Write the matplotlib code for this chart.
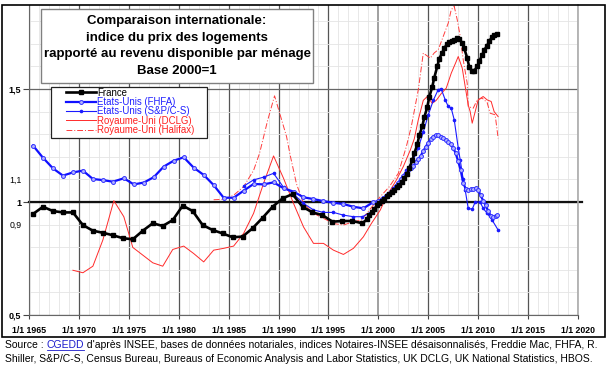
import matplotlib
matplotlib.use("Agg")
import matplotlib.pyplot as plt
from matplotlib.ticker import FixedLocator, FuncFormatter
from matplotlib.patches import Rectangle
from matplotlib.lines import Line2D

plt.rcParams['font.family'] = ['Liberation Sans', 'DejaVu Sans']

# ---------------- data (decimal years, index base 2000 = 1) ----------------
fr_x = [1965.4, 1966.4, 1967.4, 1968.4, 1969.4, 1970.4, 1971.4, 1972.4, 1973.4, 1974.4,
        1975.4, 1976.4, 1977.4, 1978.4, 1979.4, 1980.4, 1981.4, 1982.4, 1983.4, 1984.4,
        1985.4, 1986.4, 1987.4, 1988.4, 1989.4, 1990.4, 1991.4, 1992.4, 1993.4, 1994.4,
        1995.4, 1996.4, 1997.4, 1998.4, 1998.9, 1999.1, 1999.4, 1999.6, 1999.9, 2000.1,
        2000.4, 2000.6, 2000.9, 2001.1, 2001.4, 2001.6, 2001.9, 2002.1, 2002.4, 2002.6,
        2002.9, 2003.1, 2003.4, 2003.6, 2003.9, 2004.1, 2004.4, 2004.6, 2004.9, 2005.1,
        2005.4, 2005.6, 2005.9, 2006.1, 2006.4, 2006.6, 2006.9, 2007.1, 2007.4, 2007.6,
        2007.9, 2008.1, 2008.4, 2008.6, 2008.9, 2009.1, 2009.4, 2009.6, 2009.9, 2010.1,
        2010.4, 2010.6, 2010.9, 2011.1, 2011.4, 2011.6, 2011.9]
fr_y = [0.947, 0.979, 0.960, 0.954, 0.954, 0.898, 0.873, 0.864, 0.853, 0.840,
        0.835, 0.873, 0.906, 0.894, 0.920, 0.984, 0.960, 0.898, 0.876, 0.861,
        0.844, 0.847, 0.884, 0.930, 0.979, 1.016, 1.035, 0.979, 0.954, 0.942,
        0.913, 0.916, 0.916, 0.906, 0.925, 0.942, 0.957, 0.970, 0.985, 0.995,
        1.005, 1.015, 1.025, 1.035, 1.045, 1.055, 1.065, 1.075, 1.090, 1.105,
        1.125, 1.150, 1.185, 1.215, 1.255, 1.295, 1.335, 1.375, 1.420, 1.465,
        1.510, 1.550, 1.600, 1.635, 1.660, 1.682, 1.698, 1.708, 1.714, 1.718,
        1.724, 1.720, 1.705, 1.680, 1.638, 1.598, 1.578, 1.580, 1.600, 1.622,
        1.650, 1.672, 1.692, 1.712, 1.730, 1.740, 1.744]

fhfa_x = [1965.4, 1966.4, 1967.4, 1968.4, 1969.4, 1970.4, 1971.4, 1972.4, 1973.4, 1974.5,
          1975.5, 1976.5, 1977.5, 1978.5, 1979.5, 1980.5, 1981.5, 1982.5, 1983.5, 1984.5,
          1985.5, 1986.5, 1987.5, 1988.5, 1989.5, 1990.5, 1991.5, 1992.5, 1993.5, 1994.5,
          1995.5, 1996.5, 1997.5, 1998.5, 1999.5,
          2000.0, 2000.25, 2000.5, 2000.75, 2001.0, 2001.25, 2001.5, 2001.75, 2002.0, 2002.25,
          2002.5, 2002.75, 2003.0, 2003.25, 2003.5, 2003.75, 2004.0, 2004.25, 2004.5, 2004.75,
          2005.0, 2005.25, 2005.5, 2005.75, 2006.0, 2006.25, 2006.5, 2006.75, 2007.0, 2007.25,
          2007.5, 2007.75, 2008.0, 2008.25, 2008.5, 2008.75, 2009.0, 2009.25, 2009.5, 2009.75,
          2010.0, 2010.25, 2010.5, 2010.75, 2011.0, 2011.25, 2011.5, 2011.75, 2011.9]
fhfa_y = [1.250, 1.196, 1.149, 1.117, 1.131, 1.139, 1.102, 1.097, 1.090, 1.105,
          1.078, 1.086, 1.110, 1.157, 1.183, 1.198, 1.152, 1.120, 1.075, 1.019,
          1.019, 1.050, 1.080, 1.078, 1.087, 1.061, 1.046, 1.021, 1.013, 1.004,
          0.997, 0.991, 0.979, 0.972, 1.000,
          1.003, 1.010, 1.018, 1.026, 1.035, 1.045, 1.055, 1.070, 1.085, 1.100,
          1.115, 1.130, 1.140, 1.150, 1.160, 1.175, 1.190, 1.205, 1.225, 1.245,
          1.262, 1.278, 1.290, 1.297, 1.295, 1.290, 1.283, 1.275, 1.265, 1.255,
          1.240, 1.215, 1.180, 1.140, 1.085, 1.058, 1.052, 1.056, 1.057, 1.060,
          1.052, 1.030, 1.005, 0.985, 0.960, 0.940, 0.935, 0.940, 0.942]

cs_x = [1986.5, 1987.5, 1988.5, 1989.5, 1990.5, 1991.4, 1992.5, 1993.5, 1994.5, 1995.5,
        1996.5, 1997.5, 1998.4, 1999.3, 2000.2, 2000.8, 2001.5, 2002.2, 2002.8, 2003.5,
        2004.0, 2004.5, 2005.0, 2005.5, 2006.0, 2006.3, 2006.7, 2007.0, 2007.3, 2007.6,
        2008.0, 2008.2, 2008.5, 2008.7, 2009.0, 2009.4, 2009.7, 2010.2, 2010.5, 2010.9,
        2011.4, 2012.0]
cs_y = [1.070, 1.098, 1.110, 1.127, 1.065, 1.040, 0.994, 0.965, 0.954, 0.954,
        0.942, 0.935, 0.935, 0.957, 0.994, 1.024, 1.061, 1.098, 1.140, 1.186,
        1.240, 1.310, 1.385, 1.450, 1.498, 1.500, 1.452, 1.423, 1.415, 1.364,
        1.240, 1.186, 1.100, 1.053, 0.972, 0.968, 1.000, 1.000, 0.972, 0.950,
        0.920, 0.876]

dclg_x = [1969.4, 1970.4, 1971.4, 1972.4, 1973.5, 1974.5, 1975.4, 1976.4, 1977.4, 1978.4,
          1979.4, 1980.5, 1981.5, 1982.5, 1983.5, 1984.5, 1985.5, 1986.5, 1987.5, 1988.5,
          1989.5, 1990.5, 1991.5, 1992.5, 1993.5, 1994.5, 1995.5, 1996.5, 1997.5, 1998.5,
          1999.3, 2000.2, 2000.8, 2001.8, 2002.5, 2003.2, 2003.6, 2004.0, 2004.5, 2004.9,
          2005.4, 2005.8, 2006.3, 2006.8, 2007.3, 2007.8, 2008.0, 2008.4, 2008.7, 2009.0,
          2009.2, 2009.4, 2009.7, 2010.0, 2010.5, 2010.9, 2011.3, 2011.6, 2012.0]
dclg_y = [0.698, 0.687, 0.716, 0.832, 1.006, 0.935, 0.799, 0.765, 0.731, 0.716,
          0.790, 0.805, 0.772, 0.735, 0.787, 0.795, 0.805, 0.861, 0.950, 1.083,
          1.204, 1.105, 0.994, 0.890, 0.817, 0.817, 0.787, 0.768, 0.795, 0.846,
          0.905, 0.965, 1.024, 1.097, 1.157, 1.230, 1.280, 1.364, 1.450, 1.467,
          1.437, 1.450, 1.480, 1.504, 1.570, 1.622, 1.644, 1.593, 1.511, 1.430,
          1.400, 1.349, 1.400, 1.452, 1.467, 1.452, 1.445, 1.400, 1.378]

hfx_x = [1983.5, 1984.5, 1985.5, 1986.5, 1987.5, 1988.1, 1988.9, 1989.6, 1990.2, 1990.8,
         1991.2, 1991.8, 1992.5, 1993.5, 1994.5, 1995.5, 1996.5, 1997.5, 1998.3, 1999.1,
         2000.2, 2001.1, 2002.0, 2002.8, 2003.3, 2004.0, 2004.5, 2005.2, 2005.6, 2006.0,
         2006.5, 2007.0, 2007.3, 2007.6, 2007.9, 2008.2, 2008.5, 2008.9, 2009.0, 2009.5,
         2009.9, 2010.4, 2010.9, 2011.2, 2011.7, 2012.0]
hfx_y = [1.010, 1.012, 1.030, 1.068, 1.140, 1.216, 1.360, 1.470, 1.380, 1.290,
         1.200, 1.080, 0.994, 0.950, 0.928, 0.905, 0.898, 0.913, 0.920, 0.965,
         1.024, 1.068, 1.127, 1.245, 1.334, 1.497, 1.659, 1.637, 1.660, 1.674,
         1.733, 1.792, 1.851, 1.866, 1.807, 1.733, 1.630, 1.526, 1.423, 1.415,
         1.452, 1.460, 1.440, 1.393, 1.386, 1.282]

series_labels = ["France", "Etats-Unis (FHFA)", "Etats-Unis (S&P/C-S)",
                 "Royaume-Uni (DCLG)", "Royaume-Uni (Halifax)"]
year_ticks = list(range(1965, 2021, 5))
year_labels = ["1/1 %d" % y for y in year_ticks]
title_text = ("Comparaison internationale:\nindice du prix des logements\n"
              "rapporté au revenu disponible par ménage\nBase 2000=1")

# ---------------- figure ----------------
W, H = 614, 368
fig = plt.figure(figsize=(W / 100, H / 100), dpi=100)
ax = fig.add_axes([29 / W, (H - 315) / H, (578 - 29) / W, (315 - 5) / H])

ax.set_xlim(1965, 2020)
ax.set_ylim(0.5, 1.872)

# grid
ax.xaxis.set_major_locator(FixedLocator(year_ticks))
ax.xaxis.set_minor_locator(FixedLocator(list(range(1965, 2021))))
ax.set_xticklabels(year_labels, fontsize=6.3, fontweight='bold')
ax.yaxis.set_major_locator(FixedLocator([0.5, 1.0, 1.5]))
ax.yaxis.set_major_formatter(FuncFormatter(lambda v, p: ("%g" % v).replace('.', ',')))
minor_y = [round(0.5 + 0.1 * i, 1) for i in range(14)]
ax.yaxis.set_minor_locator(FixedLocator(minor_y))
ax.yaxis.set_minor_formatter(FuncFormatter(
    lambda v, p: ("%g" % v).replace('.', ',') if round(v, 1) in (0.9, 1.1) else ""))
for lab in ax.get_yticklabels():
    lab.set_fontweight('bold')
ax.tick_params(axis='y', which='major', labelsize=6.5, length=4, width=0.8, pad=1.5, color='#444444')
ax.tick_params(axis='y', which='minor', labelsize=6.3, length=0, pad=5.5)
ax.tick_params(axis='x', which='major', length=3, width=0.8, pad=5, color='#444444')
ax.tick_params(axis='x', which='minor', length=0)

ax.grid(True, which='minor', color='#e4e4e4', lw=0.6)
ax.grid(True, which='major', axis='x', color='#555555', lw=0.9)
ax.grid(True, which='major', axis='y', color='#666666', lw=0.9)
ax.set_axisbelow(True)
for gl, t in zip(ax.get_xgridlines(), year_ticks):
    if t == 2000:
        gl.set_color('#a0a0a0')
        gl.set_linewidth(1.4)
ax.axhline(1.0, xmin=0, xmax=1.008, color='#111111', lw=1.6, zorder=2, clip_on=False)

for side in ['left', 'bottom']:
    ax.spines[side].set_color('#666666')
ax.spines['right'].set_color('#aaaaaa')
ax.spines['right'].set_linewidth(1.2)
ax.spines['top'].set_visible(False)

# series
ax.plot(dclg_x, dclg_y, color='#ff2a2a', lw=0.7, zorder=3, label=series_labels[3])
ax.plot(hfx_x, hfx_y, color='#ff3c3c', lw=0.7, ls=(0, (6, 2, 1, 2)), zorder=3,
        label=series_labels[4])
ax.plot(cs_x, cs_y, color='#1a1aff', lw=0.8, marker='o', ms=1.6, zorder=4,
        label=series_labels[2])
ax.plot(fhfa_x, fhfa_y, color='#1010ff', lw=1.6, marker='o', ms=2.8, mfc='#b4b4ff',
        mec='#3030ff', mew=0.7, zorder=5, label=series_labels[1])
ax.plot(fr_x, fr_y, color='black', lw=1.9, marker='s', ms=2.8, zorder=6,
        label=series_labels[0])

# legend (frame drawn separately, entries inset like the original)
fig.add_artist(Rectangle((51 / W, (H - 138) / H), 156 / W, 51 / H, transform=fig.transFigure,
                         fc='white', ec='#222222', lw=0.9, zorder=9))
h, l = ax.get_legend_handles_labels()
order = [4, 3, 2, 0, 1]
leg = fig.legend([h[i] for i in order], [l[i] for i in order],
                 loc='upper left', bbox_to_anchor=(66 / W, (H - 87.5) / H),
                 fontsize=6.9, frameon=False, borderaxespad=0,
                 labelspacing=-0.06, handlelength=3.1, handletextpad=0.15,
                 borderpad=0.0)
txt_colors = ['black', '#2020ff', '#2020ff', '#ff2020', '#ff2020']
for t, c in zip(leg.get_texts(), txt_colors):
    t.set_color(c)
leg.set_zorder(10)

# title box
fig.add_artist(Rectangle((41 / W, (H - 83) / H), 272 / W, 74 / H, transform=fig.transFigure,
                         fc='white', ec='#808080', lw=1.0, zorder=11))
fig.text(177 / W, (H - 46) / H, title_text, ha='center', va='center', fontsize=9.5,
         fontweight='bold', linespacing=1.5, zorder=12)

# outer frame
fig.add_artist(Rectangle((2 / W, (H - 337) / H), 603 / W, 332 / H, transform=fig.transFigure,
                         fill=False, ec='black', lw=1.2, zorder=20))

# source text
fs = 7.5
t1 = fig.text(5 / W, (H - 345) / H, "Source : ", fontsize=fs, va='center', ha='left')
t2 = fig.text(0, 0, "CGEDD", fontsize=fs, color='#1a1acc')
t3 = fig.text(0, 0, " d'après INSEE, bases de données notariales, indices Notaires-INSEE "
              "désaisonnalisés, Freddie Mac, FHFA, R.", fontsize=fs)
fig.text(5 / W, (H - 359) / H, "Shiller, S&P/C-S, Census Bureau, Bureaus of Economic Analysis "
         "and Labor Statistics, UK DCLG, UK National Statistics, HBOS.", fontsize=fs,
         va='center', ha='left')
fig.canvas.draw()
r = fig.canvas.get_renderer()
b1 = t1.get_window_extent(r)
t2.set_position((b1.x1 / W, (H - 345) / H))
t2.set_va('center')
fig.canvas.draw()
b2 = t2.get_window_extent(r)
t3.set_position((b2.x1 / W, (H - 345) / H))
t3.set_va('center')
fig.add_artist(Line2D([b2.x0 / W, b2.x1 / W], [(b2.y0 + 0.5) / H] * 2, color='#1a1acc',
                      lw=0.6, transform=fig.transFigure))

fig.savefig("out.png", dpi=100)
